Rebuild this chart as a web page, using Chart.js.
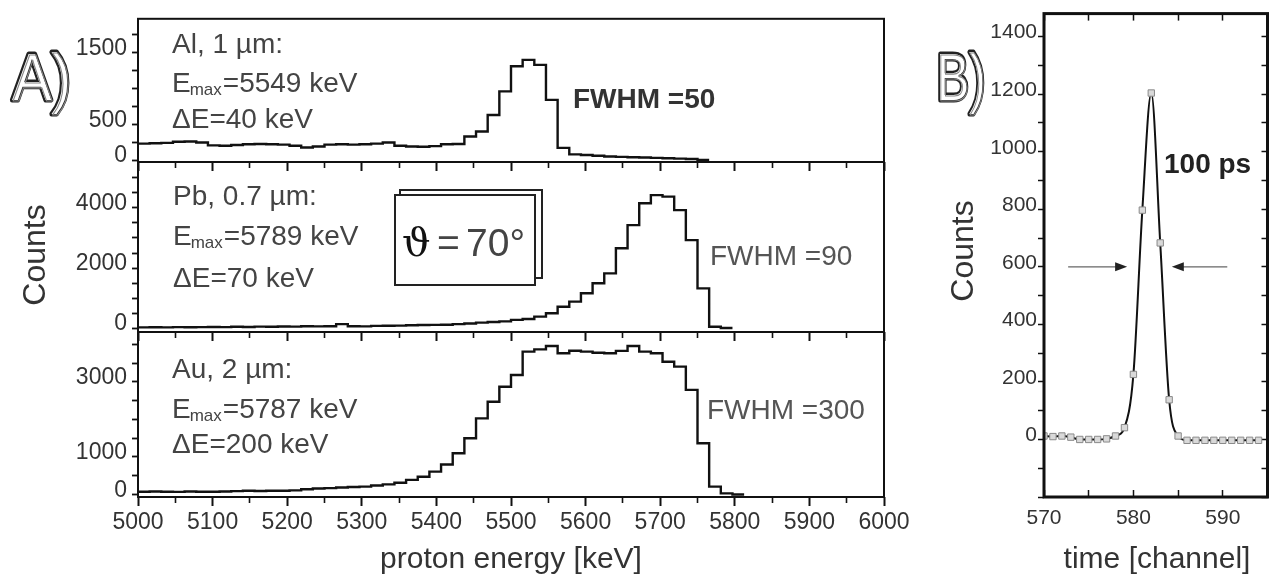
<!DOCTYPE html>
<html>
<head>
<meta charset="utf-8">
<script src="https://cdn.jsdelivr.net/npm/chart.js@4.4.1/dist/chart.umd.min.js"></script>
<style>
  html, body { margin: 0; padding: 0; background: #fff; }
  #wrap { position: relative; width: 1273px; height: 578px; }
  canvas { position: absolute; left: 0; top: 0; }
</style>
</head>
<body>
<div id="wrap">
  <canvas id="al" width="1273" height="578"></canvas>
  <canvas id="pb" width="1273" height="578"></canvas>
  <canvas id="au" width="1273" height="578"></canvas>
  <canvas id="tof" width="1273" height="578"></canvas>
</div>
<script>
// proton energy histograms, bins in keV
const binStart = 5000;
const binWidth = 15.625;

const alCounts = [230, 235, 240, 255, 260, 245, 205, 200, 210, 220, 225, 220, 215, 200, 175, 190,
  215, 220, 215, 220, 230, 245, 200, 190, 185, 195, 220, 225, 330, 400, 630, 960,
  1310, 1400, 1330, 840, 170, 80, 70, 60, 50, 45, 40, 35, 30, 25, 20, 15, 0];

const pbCounts = [20, 25, 20, 30, 25, 30, 35, 30, 40, 35, 45, 40, 50, 45, 60, 55,
  60, 130, 60, 55, 70, 75, 80, 90, 100, 105, 110, 130, 150, 180, 200, 220,
  270, 300, 380, 490, 710, 880, 1160, 1490, 1820, 2660, 3430, 4160, 4430, 4380, 3930, 2930,
  1320, 40, 0];

const auCounts = [75, 80, 75, 70, 80, 75, 75, 80, 90, 100, 95, 100, 100, 110, 140, 160,
  170, 185, 200, 210, 240, 270, 315, 390, 475, 610, 800, 1100, 1500, 2030, 2475, 2875,
  3187, 3810, 3870, 3960, 3765, 3835, 3810, 3780, 3765, 3830, 3960, 3810, 3765, 3540, 3410, 2790,
  1365, 210, 30, 0];

const energyMajor = [5000, 5100, 5200, 5300, 5400, 5500, 5600, 5700, 5800, 5900, 6000];
const energyMinor = [5050, 5150, 5250, 5350, 5450, 5550, 5650, 5750, 5850, 5950];

const alTicks = [0, 250, 500, 750, 1000, 1250, 1500, 1750];
const alShown = [0, 500, 1500];
const pbTicks = [0, 500, 1000, 1500, 2000, 2500, 3000, 3500, 4000, 4500, 5000];
const pbShown = [0, 2000, 4000];
const auTicks = [0, 500, 1000, 1500, 2000, 2500, 3000, 3500, 4000];
const auShown = [0, 1000, 3000];

// time of flight peak
const channels = [570, 571, 572, 573, 574, 575, 576, 577, 578, 579, 580, 581, 582,
  583, 584, 585, 586, 587, 588, 589, 590, 591, 592, 593, 594];
const tofCounts = [12, 10, 12, 8, 0, 0, 0, 2, 12, 41, 226, 797, 1204,
  683, 138, 12, -3, -3, -3, -3, -3, -3, -3, -3, -3];
const channelTicks = [570, 575, 580, 585, 590, 595];
const channelShown = [570, 580, 590];
const tofTicks = [-200, -100, 0, 100, 200, 300, 400, 500, 600, 700, 800, 900, 1000, 1100, 1200, 1300, 1400];
const tofShown = [0, 200, 400, 600, 800, 1000, 1200, 1400];

Chart.defaults.font.family = '"Liberation Sans", Arial, sans-serif';
Chart.defaults.color = '#333';

const SANS = '"Liberation Sans", Arial, sans-serif';
const W = 1273, H = 578;

function histPoints(counts) {
  const pts = counts.map((c, k) => ({ x: binStart + k * binWidth, y: c }));
  pts.push({ x: binStart + counts.length * binWidth, y: counts[counts.length - 1] });
  return pts;
}

const frame = {
  id: 'frame',
  afterDraw(chart, args, opts) {
    const { ctx, chartArea: a } = chart;
    ctx.save();
    ctx.strokeStyle = '#111';
    ctx.lineWidth = opts.width || 2;
    ctx.strokeRect(a.left, a.top, a.right - a.left, a.bottom - a.top);
    ctx.restore();
  }
};

function text(ctx, s, x, y, font, color) {
  ctx.font = font;
  ctx.fillStyle = color;
  ctx.textAlign = 'left';
  ctx.textBaseline = 'alphabetic';
  ctx.fillText(s, x, y);
  return ctx.measureText(s).width;
}

function target(ctx, x, lines, name, emax, de) {
  const f = '28px ' + SANS, c = '#444';
  text(ctx, name, x, lines[0], f, c);
  const w = text(ctx, 'E', x, lines[1], f, c);
  const w2 = text(ctx, 'max', x + w - 1, lines[1] + 3, '17px ' + SANS, c);
  text(ctx, '=' + emax + ' keV', x + w + w2, lines[1], f, c);
  text(ctx, '\u0394E=' + de + ' keV', x, lines[2], f, c);
}

// panel letters drawn as outlined glyphs
function outlined(ctx, s, x, y, sx) {
  ctx.save();
  ctx.translate(x, y);
  ctx.scale(sx, 1);
  ctx.font = '67px ' + SANS;
  ctx.textAlign = 'left';
  ctx.textBaseline = 'alphabetic';
  ctx.lineJoin = 'round';
  ctx.strokeStyle = '#222';
  ctx.lineWidth = 5;
  ctx.strokeText(s, 0, 0);
  ctx.fillStyle = '#fff';
  ctx.fillText(s, 0, 0);
  ctx.strokeStyle = '#888';
  ctx.lineWidth = 1.2;
  ctx.strokeText(s, 1, 1);
  ctx.restore();
}

function rotated(ctx, s, x, y, font) {
  ctx.save();
  ctx.translate(x, y);
  ctx.rotate(-Math.PI / 2);
  ctx.font = font;
  ctx.fillStyle = '#333';
  ctx.textAlign = 'center';
  ctx.textBaseline = 'alphabetic';
  ctx.fillText(s, 0, 0);
  ctx.restore();
}

function energyPanel(id, counts, area, yRange, yTicks, yShown, withLabels, notes) {
  return new Chart(document.getElementById(id), {
    type: 'line',
    data: {
      datasets: [{
        data: histPoints(counts),
        stepped: true,
        borderColor: '#111',
        borderWidth: 2.4,
        pointRadius: 0,
        fill: false
      }]
    },
    options: {
      responsive: false,
      animation: false,
      events: [],
      layout: { padding: { left: 0, right: W - 884, top: area[0], bottom: withLabels ? 0 : H - area[1] } },
      plugins: { legend: { display: false }, tooltip: { enabled: false }, frame: { width: 2 } },
      scales: {
        x: {
          type: 'linear', position: 'bottom', min: 5000, max: 6000, weight: 1,
          afterBuildTicks: s => { s.ticks = energyMajor.map(v => ({ value: v })); },
          afterFit: s => { s.height = withLabels ? H - area[1] : 0; },
          ticks: {
            display: withLabels, color: '#333', font: { size: 23 }, padding: 3,
            maxRotation: 0, autoSkip: false, callback: v => String(v)
          },
          grid: { drawOnChartArea: false, tickLength: 9, tickWidth: 2, tickColor: '#111' },
          border: { display: false }
        },
        xm: {
          type: 'linear', position: 'bottom', min: 5000, max: 6000, weight: 0,
          afterBuildTicks: s => { s.ticks = energyMinor.map(v => ({ value: v })); },
          afterFit: s => { s.height = 0; },
          ticks: { display: false },
          grid: { drawOnChartArea: false, tickLength: 6, tickWidth: 1.6, tickColor: '#111' },
          border: { display: false }
        },
        y: {
          type: 'linear', position: 'left', min: yRange[0], max: yRange[1],
          afterBuildTicks: s => { s.ticks = yTicks.map(v => ({ value: v })); },
          afterFit: s => { s.width = 138; },
          ticks: {
            color: '#333', font: { size: 23 }, padding: 5, labelOffset: -4, autoSkip: false,
            callback: v => yShown.includes(v) ? String(v) : ''
          },
          grid: { drawOnChartArea: false, tickLength: 6, tickWidth: 1.8, tickColor: '#111' },
          border: { display: false }
        }
      }
    },
    plugins: [frame, { id: 'notes', afterDraw: c => notes(c.ctx) }]
  });
}

energyPanel('al', alCounts, [12, 162], [-27, 1973], alTicks, alShown, false, ctx => {
  outlined(ctx, 'A)', 12, 100, 0.88);
  target(ctx, 172, [53, 92, 128], 'Al, 1 \u00b5m:', '5549', '40');
  text(ctx, 'FWHM =50', 573, 108, 'bold 28px ' + SANS, '#333');
});

energyPanel('pb', pbCounts, [162, 332], [-133, 5533], pbTicks, pbShown, false, ctx => {
  target(ctx, 173, [205, 245, 287], 'Pb, 0.7 \u00b5m:', '5789', '70');
  text(ctx, 'FWHM =90', 710, 265, '28px ' + SANS, '#555');
  // angle box
  ctx.save();
  ctx.lineWidth = 2;
  ctx.strokeStyle = '#222';
  ctx.fillStyle = '#fff';
  ctx.fillRect(400, 190, 142, 88);
  ctx.strokeRect(400, 190, 142, 88);
  ctx.fillRect(395, 195, 140, 90);
  ctx.strokeRect(395, 195, 140, 90);
  ctx.restore();
  text(ctx, '\u03d1', 402, 256, '40px "DejaVu Serif", serif', '#111');
  text(ctx, '=', 437, 256, '39px ' + SANS, '#444');
  text(ctx, '70\u00b0', 466, 256, '39px ' + SANS, '#444');
});

energyPanel('au', auCounts, [332, 497], [-67, 4333], auTicks, auShown, true, ctx => {
  target(ctx, 172, [378, 418, 453], 'Au, 2 \u00b5m:', '5787', '200');
  text(ctx, 'FWHM =300', 707, 419, '28px ' + SANS, '#555');
  rotated(ctx, 'Counts', 45, 255, '32px ' + SANS);
  ctx.save();
  ctx.font = '30px ' + SANS;
  ctx.fillStyle = '#333';
  ctx.textAlign = 'center';
  ctx.fillText('proton energy [keV]', 511, 568);
  ctx.restore();
});

// half maximum markers for the timing peak
const fwhmLevel = 600;
const arrowLeft = [572.7, 579.3];
const arrowRight = [590.5, 584.3];

function arrow(ctx, x0, x1, y) {
  const dir = Math.sign(x1 - x0);
  ctx.beginPath();
  ctx.moveTo(x0, y);
  ctx.lineTo(x1 - dir * 8, y);
  ctx.stroke();
  ctx.beginPath();
  ctx.moveTo(x1, y);
  ctx.lineTo(x1 - dir * 12, y - 4.5);
  ctx.lineTo(x1 - dir * 12, y + 4.5);
  ctx.closePath();
  ctx.fill();
}

new Chart(document.getElementById('tof'), {
  type: 'line',
  data: {
    datasets: [{
      data: channels.map((c, i) => ({ x: c, y: tofCounts[i] })),
      borderColor: '#111',
      borderWidth: 2,
      cubicInterpolationMode: 'monotone',
      pointStyle: 'rect',
      pointRadius: 4.5,
      pointBackgroundColor: '#d9d9d9',
      pointBorderColor: '#8a8a8a',
      pointBorderWidth: 1,
      fill: false
    }]
  },
  options: {
    responsive: false,
    animation: false,
    events: [],
    layout: { padding: { left: 0, right: 5, top: 7, bottom: 0 } },
    plugins: { legend: { display: false }, tooltip: { enabled: false }, frame: { width: 3 } },
    scales: {
      x: {
        type: 'linear', position: 'bottom', min: 570, max: 595, weight: 1,
        afterBuildTicks: s => { s.ticks = channelShown.map(v => ({ value: v })); },
        afterFit: s => { s.height = H - 497; },
        ticks: { color: '#333', font: { size: 21 }, padding: 9, maxRotation: 0, autoSkip: false, callback: v => String(v) },
        grid: { drawOnChartArea: false, drawTicks: false },
        border: { display: false }
      },
      xm: {
        type: 'linear', position: 'bottom', min: 570, max: 595, weight: 0,
        afterBuildTicks: s => { s.ticks = channelTicks.map(v => ({ value: v })); },
        afterFit: s => { s.height = 0; },
        ticks: { display: false },
        grid: { drawOnChartArea: false, tickLength: -7, tickWidth: 1.5, tickColor: '#111' },
        border: { display: false }
      },
      xt: {
        type: 'linear', position: 'top', min: 570, max: 595,
        afterBuildTicks: s => { s.ticks = channelTicks.map(v => ({ value: v })); },
        afterFit: s => { s.height = 0; },
        ticks: { display: false },
        grid: { drawOnChartArea: false, tickLength: -7, tickWidth: 1.5, tickColor: '#111' },
        border: { display: false }
      },
      y: {
        type: 'linear', position: 'left', min: -200, max: 1480,
        afterBuildTicks: s => { s.ticks = tofTicks.map(v => ({ value: v })); },
        afterFit: s => { s.width = 1044; },
        ticks: {
          color: '#333', font: { size: 21 }, padding: 1, labelOffset: -4, autoSkip: false,
          callback: v => tofShown.includes(v) ? String(v) : ''
        },
        grid: { drawOnChartArea: false, tickLength: 6, tickWidth: 1.5, tickColor: '#111' },
        border: { display: false }
      },
      yr: {
        type: 'linear', position: 'right', min: -200, max: 1480,
        afterBuildTicks: s => { s.ticks = tofTicks.map(v => ({ value: v })); },
        afterFit: s => { s.width = 0; },
        ticks: { display: false },
        grid: { drawOnChartArea: false, tickLength: -6, tickWidth: 1.5, tickColor: '#111' },
        border: { display: false }
      }
    }
  },
  plugins: [frame, {
    id: 'notes',
    afterDatasetsDraw(chart) {
      const { ctx, scales: { x, y } } = chart;
      const yy = y.getPixelForValue(fwhmLevel);
      ctx.save();
      ctx.strokeStyle = '#666';
      ctx.fillStyle = '#222';
      ctx.lineWidth = 1.2;
      arrow(ctx, x.getPixelForValue(arrowLeft[0]), x.getPixelForValue(arrowLeft[1]), yy);
      arrow(ctx, x.getPixelForValue(arrowRight[0]), x.getPixelForValue(arrowRight[1]), yy);
      ctx.restore();
    },
    afterDraw(chart) {
      const ctx = chart.ctx;
      outlined(ctx, 'B)', 936, 100, 0.74);
      text(ctx, '100 ps', 1164, 173, 'bold 28px ' + SANS, '#222');
      rotated(ctx, 'Counts', 973, 251, '32px ' + SANS);
      ctx.save();
      ctx.font = '30px ' + SANS;
      ctx.fillStyle = '#333';
      ctx.textAlign = 'center';
      ctx.fillText('time [channel]', 1157, 568);
      ctx.restore();
    }
  }]
});
</script>
</body>
</html>
